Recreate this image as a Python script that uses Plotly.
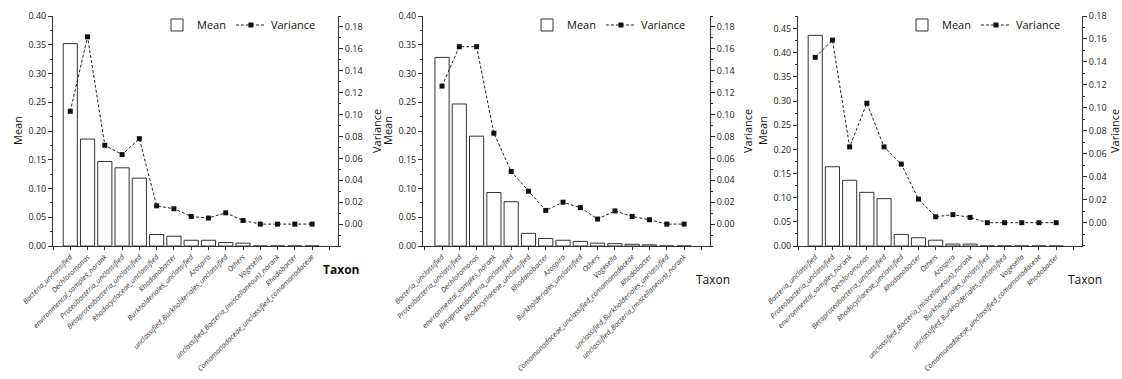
import plotly.graph_objects as go

# ---- data: three sample groups, 15 taxa each ----
taxa_a = ["Bacteria_unclassified", "Dechloromonas", "environmental_samples_norank",
          "Proteobacteria_unclassified", "Betaproteobacteria_unclassified",
          "Rhodocyclaceae_unclassified", "Rhodanobacter", "Burkholderiales_unclassified",
          "Azospira", "unclassified_Burkholderiales_unclassified", "Others", "Vogesella",
          "unclassified_Bacteria_(miscellaneous)_norank", "Rhodobacter",
          "Comamonadaceae_unclassified_comamonadaceae"]
mean_a = [0.352, 0.186, 0.147, 0.136, 0.118, 0.020, 0.017, 0.010, 0.010, 0.006, 0.005,
          0.0, 0.0, 0.0, 0.0]
var_a = [0.103, 0.171, 0.072, 0.0635, 0.078, 0.0167, 0.014, 0.007, 0.0055, 0.0103, 0.0033,
         0.0, 0.0, 0.0, 0.0]

taxa_b = ["Bacteria_unclassified", "Proteobacteria_unclassified", "Dechloromonas",
          "environmental_samples_norank", "Betaproteobacteria_unclassified",
          "Rhodocyclaceae_unclassified", "Rhodanobacter", "Azospira",
          "Burkholderiales_unclassified", "Others", "Vogesella",
          "Comamonadaceae_unclassified_comamonadaceae", "Rhodobacter",
          "unclassified_Burkholderiales_unclassified",
          "unclassified_Bacteria_(miscellaneous)_norank"]
mean_b = [0.328, 0.247, 0.191, 0.093, 0.077, 0.022, 0.013, 0.010, 0.008, 0.005, 0.004,
          0.003, 0.002, 0.0, 0.0]
var_b = [0.126, 0.162, 0.162, 0.083, 0.048, 0.030, 0.0125, 0.020, 0.015, 0.0046, 0.012,
         0.007, 0.004, 0.0, 0.0]

taxa_c = ["Bacteria_unclassified", "Proteobacteria_unclassified",
          "environmental_samples_norank", "Dechloromonas", "Betaproteobacteria_unclassified",
          "Rhodocyclaceae_unclassified", "Rhodanobacter", "Others", "Azospira",
          "unclassified_Bacteria_(miscellaneous)_norank", "Burkholderiales_unclassified",
          "unclassified_Burkholderiales_unclassified", "Vogesella",
          "Comamonadaceae_unclassified_comamonadaceae", "Rhodobacter"]
mean_c = [0.436, 0.164, 0.136, 0.111, 0.098, 0.024, 0.017, 0.012, 0.004, 0.004,
          0.0, 0.0, 0.0, 0.0, 0.0]
var_c = [0.144, 0.159, 0.066, 0.104, 0.066, 0.051, 0.0206, 0.0052, 0.007, 0.0046,
         0.0, 0.0, 0.0, 0.0, 0.0]

W, H = 1122, 379
FONT = "Open Sans"
INK = "#222"

panels = [
    dict(taxa=taxa_a, mean=mean_a, var=var_a, x0=53, x1=338, xr=[0.0, 16.5],
         ymax=0.40, ydt=0.05, vr=[-0.02, 0.19], taxon_y=269, taxon_bold=True, vt=38),
    dict(taxa=taxa_b, mean=mean_b, var=var_b, x0=423, x1=710, xr=[-0.1, 16.5],
         ymax=0.40, ydt=0.05, vr=[-0.02, 0.19], taxon_y=279, taxon_bold=False, vt=37),
    dict(taxa=taxa_c, mean=mean_c, var=var_c, x0=798, x1=1082, xr=[0.0, 16.5],
         ymax=0.476, ydt=0.05, vr=[-0.0203, 0.18], taxon_y=279, taxon_bold=False, vt=32),
]

top_px, bot_px = 16, 246
ydom = [1 - bot_px / H, 1 - top_px / H]

fig = go.Figure()
layout = dict(width=W, height=H, margin=dict(l=0, r=0, t=0, b=0, autoexpand=False),
              template="none", plot_bgcolor="white", paper_bgcolor="white",
              font=dict(family=FONT, size=9, color=INK),
              annotations=[], hovermode=False)

for i, p in enumerate(panels, start=1):
    xa = "x" if i == 1 else f"x{i}"
    yl_n, yr_n = 2 * i - 1, 2 * i
    yl = "y" if yl_n == 1 else f"y{yl_n}"
    yr = f"y{yr_n}"
    leg = "legend" if i == 1 else f"legend{i}"
    pos = list(range(1, len(p["taxa"]) + 1))

    fig.add_trace(go.Bar(x=pos, y=p["mean"], name="Mean", xaxis=xa, yaxis=yl,
                         marker=dict(color="white", line=dict(color="#333", width=1)),
                         width=0.82, legend=leg))
    fig.add_trace(go.Scatter(x=pos, y=p["var"], name="Variance", xaxis=xa, yaxis=yr,
                             mode="lines+markers",
                             line=dict(color="#222", width=1, dash="3px,2px"),
                             marker=dict(symbol="square", size=5, color="#111"),
                             legend=leg))

    xkey = "xaxis" if i == 1 else f"xaxis{i}"
    ylkey = "yaxis" if yl_n == 1 else f"yaxis{yl_n}"
    yrkey = f"yaxis{yr_n}"

    layout[xkey] = dict(domain=[p["x0"] / W, p["x1"] / W], range=p["xr"], anchor=yl,
                        automargin=False,
                        tickmode="array", tickvals=list(range(0, 17)),
                        ticktext=[""] + p["taxa"] + [""],
                        tickangle=-45,
                        tickfont=dict(size=7.2, family=FONT, color="#333", style="italic"),
                        ticks="outside", ticklen=3, tickcolor="#333",
                        showline=True, linecolor="#333", linewidth=1,
                        showgrid=False, zeroline=False, fixedrange=True)
    nt = int(round(p["ymax"] // p["ydt"])) + 1
    ytv = [round(k * p["ydt"], 2) for k in range(nt)]
    layout[ylkey] = dict(domain=ydom, range=[0, p["ymax"]], anchor=xa, automargin=False,
                         tickvals=ytv, ticktext=[f"{v:.2f}" for v in ytv],
                         ticks="outside", ticklen=4, tickcolor="#333",
                         minor=dict(ticks="outside", ticklen=2, dtick=p["ydt"] / 2,
                                    tick0=0, tickcolor="#333"),
                         showline=True, linecolor="#333", linewidth=1,
                         showgrid=False, zeroline=False, fixedrange=True)
    vtv = [round(k * 0.02, 2) for k in range(10)]
    layout[yrkey] = dict(range=p["vr"], overlaying=yl, side="right", anchor=xa,
                         automargin=False,
                         tickvals=vtv, ticktext=[f"{v:.2f}" for v in vtv],
                         ticks="outside", ticklen=4, tickcolor="#333",
                         minor=dict(ticks="outside", ticklen=2, dtick=0.01,
                                    tick0=0, tickcolor="#333"),
                         showline=True, linecolor="#333", linewidth=1,
                         showgrid=False, zeroline=False, fixedrange=True)

    layout[leg] = dict(orientation="h", x=(p["x0"] + 104) / W, y=1 - 25 / H,
                       xanchor="left", yanchor="middle", bgcolor="rgba(0,0,0,0)",
                       font=dict(size=11, family=FONT, color="#111"),
                       itemwidth=30, tracegroupgap=0)

    # axis titles
    layout["annotations"] += [
        dict(text="Mean", x=(p["x0"] - 36) / W, y=1 - 131 / H, xref="paper", yref="paper",
             xanchor="center", yanchor="middle",
             textangle=-90, showarrow=False, font=dict(size=11, family=FONT, color="#111")),
        dict(text="Variance", x=(p["x1"] + p["vt"]) / W, y=1 - 131 / H, xref="paper",
             yref="paper", xanchor="center", yanchor="middle", textangle=-90,
             showarrow=False, font=dict(size=11, family=FONT, color="#111")),
        dict(text="<b>Taxon</b>" if p["taxon_bold"] else "Taxon",
             x=(p["x1"] + 3) / W, y=1 - p["taxon_y"] / H, xref="paper", yref="paper",
             xanchor="center", yanchor="middle",
             showarrow=False, font=dict(size=12, family=FONT, color="#111")),
    ]

fig.update_layout(**layout)
fig.write_html("out.html")
